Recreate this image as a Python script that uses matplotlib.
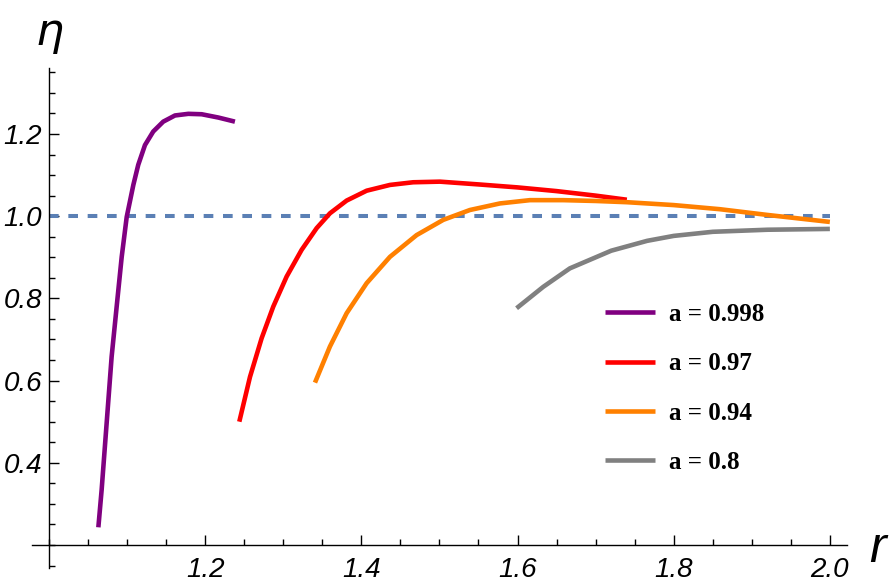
import matplotlib
matplotlib.use("Agg")
from matplotlib import pyplot as plt
from matplotlib.ticker import MultipleLocator, FixedLocator

# curve data (r, eta)
r_998 = [1.0632, 1.0674, 1.0738, 1.0802, 1.0875, 1.0931, 1.0995, 1.108, 1.1143,
         1.1229, 1.1335, 1.1463, 1.1613, 1.1784, 1.1955, 1.2168, 1.2381]
eta_998 = [0.243, 0.334, 0.496, 0.658, 0.796, 0.901, 0.998, 1.076, 1.125,
           1.173, 1.206, 1.230, 1.245, 1.249, 1.248, 1.240, 1.230]

r_97 = [1.2437, 1.2574, 1.2723, 1.2872, 1.3043, 1.3235, 1.3428, 1.3598, 1.3812,
        1.4068, 1.4366, 1.4664, 1.5006, 1.552, 1.60, 1.65, 1.70, 1.74]
eta_97 = [0.500, 0.609, 0.703, 0.780, 0.853, 0.918, 0.971, 1.007, 1.038,
          1.062, 1.076, 1.0825, 1.084, 1.077, 1.070, 1.061, 1.050, 1.040]

r_94 = [1.3406, 1.3598, 1.3812, 1.4068, 1.4366, 1.4708, 1.5049, 1.539, 1.5775,
        1.6159, 1.6585, 1.70, 1.74, 1.80, 1.859, 1.92, 2.0]
eta_94 = [0.595, 0.683, 0.764, 0.837, 0.901, 0.954, 0.991, 1.015, 1.031,
          1.039, 1.039, 1.037, 1.034, 1.027, 1.017, 1.003, 0.986]

r_8 = [1.5988, 1.6329, 1.667, 1.72, 1.766, 1.80, 1.850, 1.92, 2.0]
eta_8 = [0.776, 0.828, 0.873, 0.916, 0.940, 0.952, 0.962, 0.967, 0.969]

labels = ["a = 0.998", "a = 0.97", "a = 0.94", "a = 0.8"]
colors = ["#800080", "#ff0000", "#ff8000", "#808080"]

fig = plt.figure(figsize=(8.89, 5.88), dpi=100)
ax = fig.add_axes([0.0358, 0.034, 0.917, 0.850])

ax.plot([1.0, 2.0], [1.0, 1.0], color="#5b80b5", lw=2.9, ls=(0, (2.4, 2.4)))

for rr, ee, lab, col in zip([r_998, r_97, r_94, r_8], [eta_998, eta_97, eta_94, eta_8], labels, colors):
    ax.plot(rr, ee, color=col, lw=3.3, label=lab, solid_capstyle="butt",
            solid_joinstyle="round")

ax.set_xlim(0.978, 2.022)
ax.set_ylim(0.144, 1.36)

# Mathematica-style axes crossing at (1.0, 0.2)
ax.spines["left"].set_position(("data", 1.0))
ax.spines["bottom"].set_position(("data", 0.2))
ax.spines["top"].set_visible(False)
ax.spines["right"].set_visible(False)
for s in ["left", "bottom"]:
    ax.spines[s].set_linewidth(1.0)

ax.xaxis.set_major_locator(FixedLocator([1.2, 1.4, 1.6, 1.8, 2.0]))
ax.xaxis.set_minor_locator(MultipleLocator(0.05))
ax.yaxis.set_major_locator(FixedLocator([0.4, 0.6, 0.8, 1.0, 1.2]))
ax.yaxis.set_minor_locator(MultipleLocator(0.05))

tick_font = {"family": "Liberation Sans", "style": "italic", "size": 20}
ax.set_xticklabels(["1.2", "1.4", "1.6", "1.8", "2.0"], fontdict=tick_font)
ax.set_yticklabels(["0.4", "0.6", "0.8", "1.0", "1.2"], fontdict=tick_font)
ax.tick_params(axis="x", which="major", direction="in", length=7, width=1, pad=9)
ax.tick_params(axis="x", which="minor", direction="in", length=4, width=1)
ax.tick_params(axis="y", which="major", direction="in", length=7, width=1, pad=5)
ax.tick_params(axis="y", which="minor", direction="in", length=4, width=1)

fig.text(50 / 889, 1 - 33 / 588, "η", family="DejaVu Sans", style="italic",
         size=32, ha="center", va="center")
fig.text(877 / 889, 1 - 562 / 588, "r", family="Liberation Sans", style="italic",
         size=36, ha="center", va="baseline")

ax.legend(loc="upper left", bbox_to_anchor=(605 / 889, 1 - 303 / 588),
          bbox_transform=fig.transFigure, frameon=False, borderpad=0,
          borderaxespad=0, handlelength=2.0, handletextpad=0.55,
          labelspacing=1.05,
          prop={"family": "Liberation Serif", "weight": "bold", "size": 18})

fig.savefig("out.png", dpi=100)
